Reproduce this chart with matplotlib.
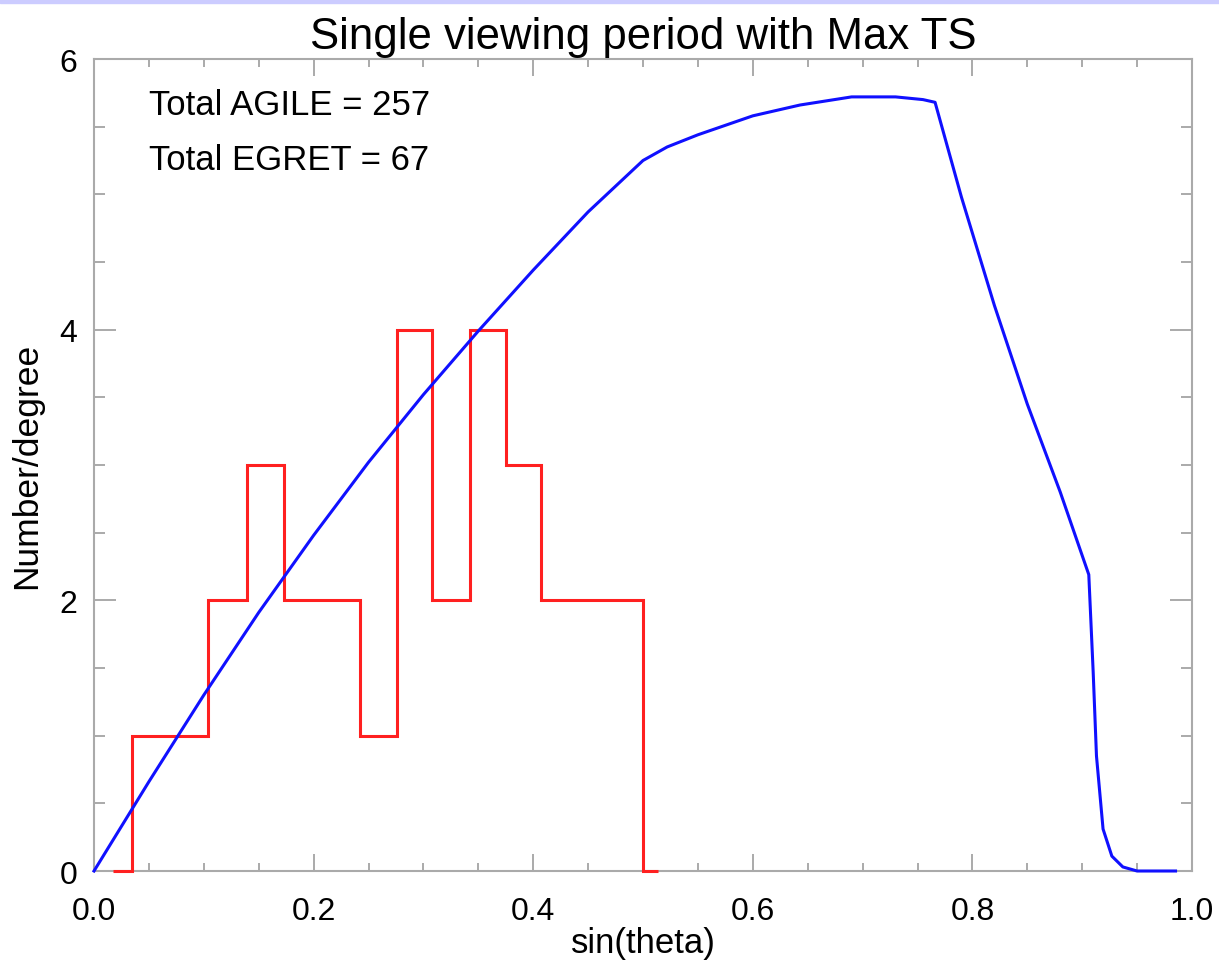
import matplotlib
matplotlib.use("Agg")
import matplotlib.pyplot as plt
from matplotlib.patches import Rectangle
from matplotlib.ticker import MultipleLocator

plt.rcParams['font.family'] = ['Liberation Sans', 'DejaVu Sans']

# EGRET histogram (bin edges in sin(theta), counts per degree)
egret_edges = [0.017, 0.035, 0.104, 0.139, 0.173, 0.242, 0.276, 0.308,
               0.342, 0.375, 0.407, 0.5, 0.514]
egret_counts = [0, 1, 2, 3, 2, 1, 4, 2, 4, 3, 2, 0]

# AGILE expected distribution
agile_x = [0.0, 0.05, 0.1, 0.15, 0.2, 0.25, 0.3, 0.35, 0.4, 0.45, 0.5,
           0.522, 0.55, 0.6, 0.643, 0.69, 0.73, 0.755, 0.766,
           0.79, 0.82, 0.85, 0.88, 0.906,
           0.910, 0.913, 0.919, 0.927, 0.937, 0.95, 0.985]
agile_y = [0.0, 0.66, 1.3, 1.91, 2.48, 3.02, 3.52, 3.99, 4.44, 4.87, 5.25,
           5.35, 5.44, 5.58, 5.66, 5.72, 5.72, 5.70, 5.68,
           4.98, 4.18, 3.45, 2.8, 2.19,
           1.47, 0.85, 0.31, 0.11, 0.03, 0.0, 0.0]

total_agile = 257
total_egret = 67

fig = plt.figure(figsize=(12.19, 9.62), dpi=100)
fig.patches.append(Rectangle((0, 1 - 4 / 962), 1, 4 / 962, transform=fig.transFigure,
                             color='#ccccff', zorder=0))
ax = fig.add_axes([94 / 1219, 1 - 872 / 962, 1098 / 1219, 812 / 962])

ax.stairs(egret_counts, egret_edges, color='#ff2020', lw=2.2, clip_on=False, zorder=3)
ax.plot(agile_x, agile_y, color='#1010ff', lw=2.2, clip_on=False, zorder=4)

ax.set_xlim(0, 1.0)
ax.set_ylim(0, 6)
ax.xaxis.set_major_locator(MultipleLocator(0.2))
ax.xaxis.set_minor_locator(MultipleLocator(0.05))
ax.yaxis.set_major_locator(MultipleLocator(2))
ax.yaxis.set_minor_locator(MultipleLocator(0.5))
ax.xaxis.set_major_formatter(lambda v, p: f"{v:.1f}")
ax.yaxis.set_major_formatter(lambda v, p: f"{v:.0f}")

for s in ax.spines.values():
    s.set_color('#aaaaaa')
    s.set_linewidth(1.5)
ax.tick_params(axis='x', which='major', direction='in', length=12, width=1.4,
               color='#aaaaaa', top=True, labelsize=23, pad=18)
ax.tick_params(axis='x', which='minor', direction='in', length=6, width=1.4,
               color='#aaaaaa', top=True)
ax.tick_params(axis='y', which='major', direction='in', length=16, width=1.4,
               color='#aaaaaa', right=True, labelsize=23, pad=12)
ax.tick_params(axis='y', which='minor', direction='in', length=8, width=1.4,
               color='#aaaaaa', right=True)

ax.set_title("Single viewing period with Max TS", fontsize=31.5, pad=8)
ax.set_xlabel("sin(theta)", fontsize=25, labelpad=0)
ax.set_ylabel("Number/degree", fontsize=25.5, labelpad=12)

ax.text(0.05, 0.944, f"Total AGILE = {total_agile}", transform=ax.transAxes,
        fontsize=25, va='center')
ax.text(0.05, 0.876, f"Total EGRET = {total_egret}", transform=ax.transAxes,
        fontsize=25, va='center')

fig.savefig("out.png", dpi=100)
